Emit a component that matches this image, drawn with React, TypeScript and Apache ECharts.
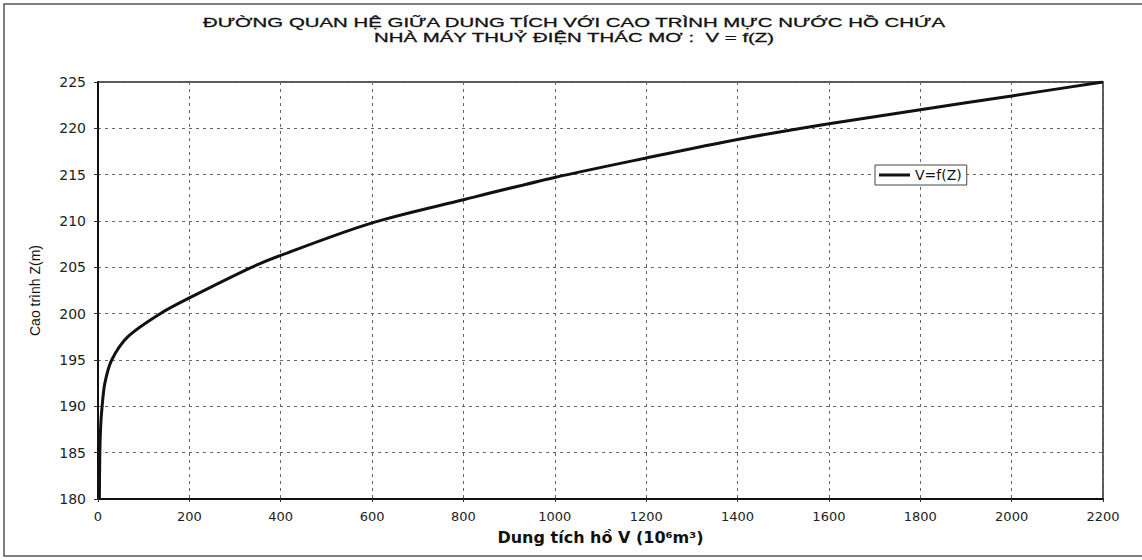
import React, { useEffect, useRef } from "react";
import * as echarts from "echarts";

// Volume V (10^6 m3) vs water level Z (m)
const volumes = [3, 4, 6, 9, 15, 30, 65, 136, 200, 336, 400, 600, 800, 1000, 1200, 1400, 1600, 1800, 2000, 2200];
const levels = [180, 185, 188, 190, 192.5, 195, 197.5, 200, 201.7, 205, 206.3, 209.8, 212.3, 214.7, 216.8, 218.8, 220.5, 222, 223.5, 225];

const titleLine1 = "ĐƯỜNG QUAN HỆ GIỮA DUNG TÍCH VỚI CAO TRÌNH MỰC NƯỚC HỒ CHỨA";
const titleLine2 = "NHÀ MÁY THUỶ ĐIỆN THÁC MƠ :  V = f(Z)";
const seriesName = "V=f(Z)";
const xAxisName = "Dung tích hồ V (10⁶m³)";
const yAxisName = "Cao trình Z(m)";

export default function App() {
  const ref = useRef<HTMLDivElement>(null);
  useEffect(() => {
    if (!ref.current) return;
    const chart = echarts.init(ref.current, null, { renderer: "svg" });
    const data = volumes.map((v, i) => [v, levels[i]]);
    chart.setOption({
      animation: false,
      backgroundColor: "#ffffff",
      textStyle: { fontFamily: "DejaVu Sans" },
      graphic: [
        {
          type: "polyline",
          shape: { points: [[1142, 4], [4, 4], [4, 556], [1142, 556]] },
          style: { stroke: "#555", lineWidth: 1.5, fill: null },
          silent: true,
        },
        {
          type: "text",
          x: 574,
          y: 23,
          scaleX: 1.57,
          style: {
            text: titleLine1,
            fontFamily: "Liberation Sans",
            fontSize: 13,
            fill: "#111",
            stroke: "#111",
            lineWidth: 0.3,
            align: "center",
            verticalAlign: "middle",
          },
        },
        {
          type: "text",
          x: 574,
          y: 38,
          scaleX: 1.57,
          style: {
            text: titleLine2,
            fontFamily: "Liberation Sans",
            fontSize: 13,
            fill: "#111",
            stroke: "#111",
            lineWidth: 0.3,
            align: "center",
            verticalAlign: "middle",
          },
        },
      ],
      legend: {
        left: 875,
        top: 165,
        padding: [3, 5, 3, 4],
        borderColor: "#444",
        borderWidth: 1,
        backgroundColor: "#fff",
        itemWidth: 31,
        itemHeight: 3,
        textStyle: { fontFamily: "DejaVu Sans", fontSize: 14, color: "#111" },
        data: [{ name: seriesName, icon: "rect" }],
      },
      grid: {
        left: 98,
        right: 39,
        top: 82,
        bottom: 61,
        show: true,
        borderColor: "#222",
        borderWidth: 1.5,
        backgroundColor: "#fff",
      },
      xAxis: {
        type: "value",
        min: 0,
        max: 2200,
        interval: 200,
        name: xAxisName,
        nameLocation: "middle",
        nameGap: 30,
        nameTextStyle: { fontFamily: "DejaVu Sans", fontWeight: "bold", fontSize: 16, color: "#111" },
        axisLine: { show: true, onZero: false, lineStyle: { color: "#111", width: 2 } },
        axisTick: { show: true, length: 3, lineStyle: { color: "#333" } },
        axisLabel: {
          fontFamily: "DejaVu Sans",
          fontSize: 13,
          color: "#222",
          margin: 11,
          formatter: (v: number) => String(v),
        },
        splitLine: { show: true, lineStyle: { color: "#666", type: [3, 4], width: 1 } },
      },
      yAxis: {
        type: "value",
        min: 180,
        max: 225,
        interval: 5,
        name: yAxisName,
        nameLocation: "middle",
        nameGap: 56,
        nameRotate: 90,
        nameTextStyle: { fontFamily: "Liberation Sans", fontSize: 14, color: "#111" },
        axisLine: { show: true, onZero: false, lineStyle: { color: "#111", width: 2 } },
        axisTick: { show: true, length: 4, lineStyle: { color: "#333" } },
        axisLabel: {
          fontFamily: "DejaVu Sans",
          fontSize: 14,
          color: "#222",
          margin: 12,
          formatter: (v: number) => String(v),
        },
        splitLine: { show: true, lineStyle: { color: "#666", type: [3, 4], width: 1 } },
      },
      series: [
        {
          name: seriesName,
          type: "line",
          data,
          smooth: 0.3,
          symbol: "none",
          lineStyle: { color: "#111", width: 3 },
          itemStyle: { color: "#111" },
          z: 5,
        },
      ],
    });
    return () => chart.dispose();
  }, []);
  return (
    <div
      ref={ref}
      style={{ position: "fixed", left: 0, top: 0, width: 1142, height: 560, background: "#fff" }}
    />
  );
}
